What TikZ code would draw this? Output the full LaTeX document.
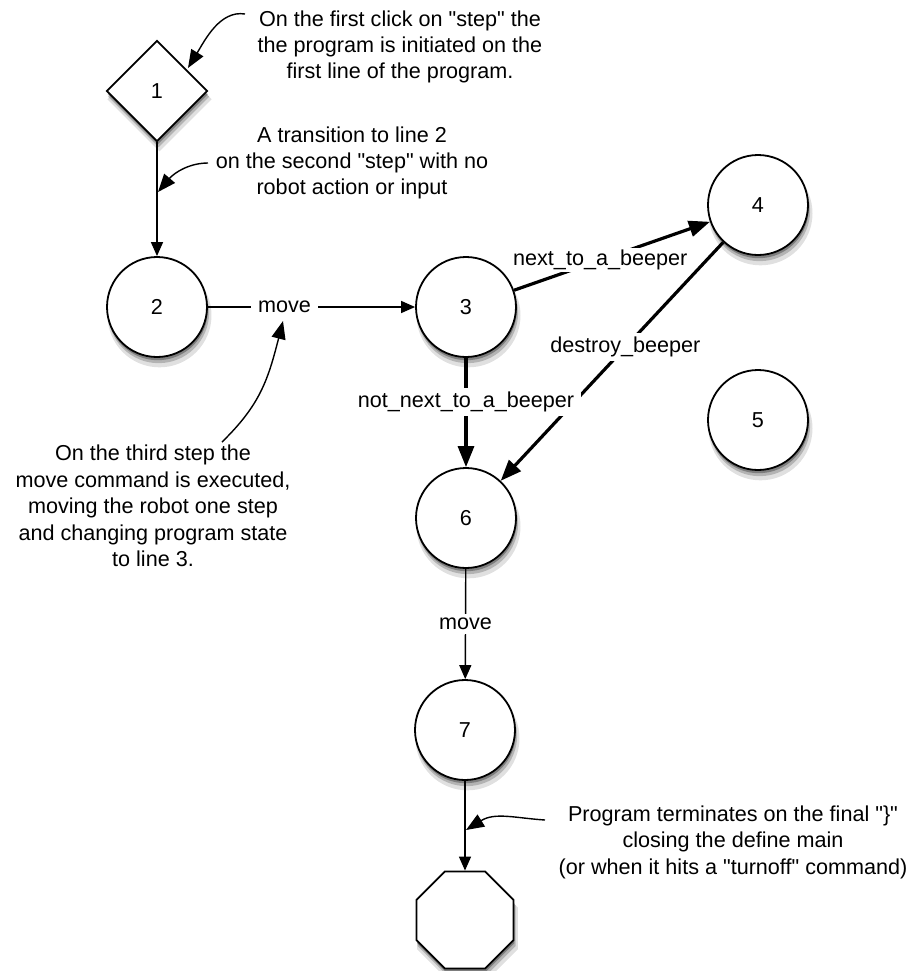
\documentclass[tikz,border=0pt]{standalone}
\usepackage{fontspec}
\setmainfont{Liberation Sans}
\usetikzlibrary{shapes.geometric,arrows.meta,shadows}
\newcommand{\qt}{\textquotedbl}

\begin{document}
\begin{tikzpicture}[
    x=0.5pt, y=-0.5pt,
    every node/.style={font=\fontsize{10.8}{13.2}\selectfont},
    shade/.style={drop shadow={shadow xshift=1.2pt, shadow yshift=-4pt, shadow scale=1.04, opacity=0.12, fill=black},
                  drop shadow={shadow xshift=0.8pt, shadow yshift=-2.8pt, shadow scale=1.01, opacity=0.2, fill=black},
                  drop shadow={shadow xshift=0.4pt, shadow yshift=-1.6pt, opacity=0.3, fill=black}},
    state/.style={circle, draw=black, fill=white, line width=0.9pt, minimum size=50pt, inner sep=0pt, shade},
    entry/.style={diamond, draw=black, fill=white, line width=0.9pt, minimum size=50.5pt, inner sep=0pt, shade},
    halt/.style={regular polygon, regular polygon sides=8, draw=black, fill=white, line width=0.9pt, minimum size=52.5pt, inner sep=0pt, shade},
    note/.style={align=center},
    arrow/.style={-{Triangle[length=7pt,width=6pt]}, line width=0.7pt},
    cond/.style={-{Triangle[length=10.5pt,width=8pt]}, line width=1.6pt},
    callout/.style={-{Triangle[length=9pt,width=7pt]}, line width=0.7pt},
    edgetext/.style={fill=white, inner xsep=3.5pt, inner ysep=2pt}
]
    \useasboundingbox (0,0) rectangle (922,971);

    % states
    \node[entry] (n1) at (157,91) {1};
    \node[state] (n2) at (157,307) {2};
    \node[state] (n3) at (466,307) {3};
    \node[state] (n4) at (758,205) {4};
    \node[state] (n5) at (758,420) {5};
    \node[state] (n6) at (466,518) {6};
    \node[state] (n7) at (465,730) {7};
    \node[halt] (end) at (465,920) {};

    % transitions
    \draw[arrow] (n1) -- (n2);
    \draw[arrow] (n2) -- node[edgetext, pos=0.37] {move} (n3);
    \draw[cond] (n3) -- node[edgetext, inner sep=1pt, pos=0.44] {next\_to\_a\_beeper} (n4);
    \draw[cond] (n4) -- node[edgetext, pos=0.44] {destroy\_beeper} (n6);
    \draw[cond] (n3) -- node[edgetext, pos=0.4] {not\_next\_to\_a\_beeper} (n6);
    \draw[arrow] (n6) -- node[edgetext] {move} (n7);
    \draw[arrow] (n7) -- (end);

    % notes
    \node[note] (startnote) at (400,47) {On the first click on \qt step\qt{} the\\the program is initiated on the\\first line of the program.};
    \node[note] (stepnote) at (352,163) {A transition to line 2\\on the second \qt step\qt{} with no\\robot action or input};
    \node[note] (movenote) at (153,506) {On the third step the\\move command is executed,\\moving the robot one step\\and changing program state\\to line 3.};
    \node[note] (endnote) at (733,842) {Program terminates on the final \qt\}\qt\\closing the define main\\(or when it hits a \qt turnoff\qt{} command)};

    \coordinate (c1) at (245,14);
    \coordinate (t1) at (188,68);
    \coordinate (c2) at (208,163);
    \coordinate (t2) at (158,192);
    \coordinate (c3) at (222,442);
    \coordinate (t3) at (283,321);
    \coordinate (c4) at (545,820);
    \coordinate (t4) at (466,830);

    \draw[callout] (c1) .. controls (220,10) and (205,40) .. (t1);
    \draw[callout] (c2) .. controls (190,163) and (175,172) .. (t2);
    \draw[callout] (c3) .. controls (260,405) and (268,380) .. (t3);
    \draw[callout] (c4) .. controls (515,818) and (495,812) .. (t4);
\end{tikzpicture}
\end{document}
